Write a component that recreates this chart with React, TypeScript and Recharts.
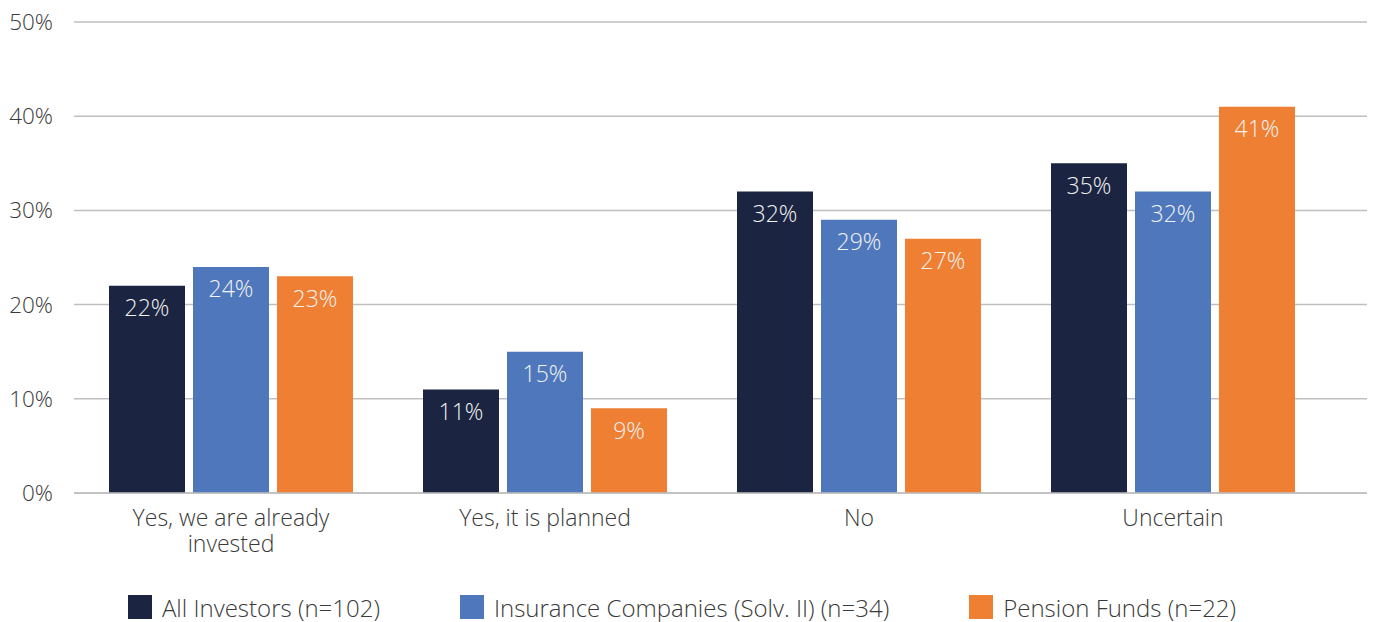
import React from "react";
import { BarChart, Bar, XAxis, YAxis, CartesianGrid, LabelList, Legend } from "recharts";

const categories = ["Yes, we are already\ninvested", "Yes, it is planned", "No", "Uncertain"];
const allInvestors = [22, 11, 32, 35];
const insurance = [24, 15, 29, 32];
const pension = [23, 9, 27, 41];
const yTicks = [0, 10, 20, 30, 40, 50];

const series = [
  { key: "all", name: "All Investors (n=102)", color: "#1B2440", values: allInvestors },
  { key: "ins", name: "Insurance Companies (Solv. II) (n=34)", color: "#4F78BC", values: insurance },
  { key: "pen", name: "Pension Funds (n=22)", color: "#EE7F33", values: pension },
];

const data = categories.map((c, i) => {
  const row: any = { category: c };
  series.forEach((s) => (row[s.key] = s.values[i]));
  return row;
});

const FONT = "'Open Sans', 'Noto Sans', sans-serif";
const WEIGHT = 300;
const TEXT_COLOR = "#3A3A3A";
const GRID = "#BFBFBF";

const CategoryTick = (props: any) => {
  const { x, y, payload } = props;
  const lines = String(payload.value).split("\n");
  return (
    <text
      x={x}
      y={y + 25}
      textAnchor="middle"
      fontSize={23}
      fontFamily={FONT}
      fontWeight={WEIGHT}
      fill={TEXT_COLOR}
    >
      {lines.map((ln, i) => (
        <tspan key={i} x={x} dy={i === 0 ? 0 : 26}>
          {ln}
        </tspan>
      ))}
    </text>
  );
};

const renderLegend = () => (
  <div
    style={{
      display: "flex",
      justifyContent: "center",
      alignItems: "center",
      gap: 80,
      height: 30,
      fontFamily: FONT,
      fontWeight: WEIGHT,
      fontSize: 24,
      color: TEXT_COLOR,
      paddingRight: 11,
    }}
  >
    {series.map((s) => (
      <div key={s.key} style={{ display: "flex", alignItems: "center" }}>
        <span style={{ display: "inline-block", width: 24, height: 24, background: s.color, marginRight: 10 }} />
        <span>{s.name}</span>
      </div>
    ))}
  </div>
);

export default function App() {
  return (
    <div style={{ position: "absolute", left: 0, top: 0, width: 1375, height: 622, background: "#fff" }}>
      <BarChart
        width={1375}
        height={622}
        data={data}
        margin={{ top: 22, right: 8, bottom: 0, left: 0 }}
        barCategoryGap={35}
        barGap={8}
      >
        <CartesianGrid vertical={false} stroke={GRID} strokeWidth={1.5} />
        <XAxis
          dataKey="category"
          height={99}
          interval={0}
          tickLine={false}
          axisLine={{ stroke: GRID, strokeWidth: 1.5 }}
          padding={{ left: 0, right: 37 }}
          tick={(p: any) => <CategoryTick {...p} />}
        />
        <YAxis
          width={74}
          domain={[0, 50]}
          ticks={yTicks}
          tickFormatter={(v: number) => `${v}%`}
          tickLine={false}
          axisLine={false}
          tickMargin={15}
          tick={{ fontSize: 22.5, fontFamily: FONT, fontWeight: WEIGHT, fill: TEXT_COLOR }}
        />
        <Legend verticalAlign="bottom" content={renderLegend} wrapperStyle={{ left: 0, width: 1375, bottom: 0 }} />
        {series.map((s) => (
          <Bar key={s.key} dataKey={s.key} name={s.name} fill={s.color} isAnimationActive={false}>
            <LabelList
              dataKey={s.key}
              position="insideTop"
              offset={14}
              formatter={(v: any) => `${v}%`}
              fill="#F2F2F2"
              fontSize={23}
              fontWeight={WEIGHT}
              fontFamily={FONT}
            />
          </Bar>
        ))}
      </BarChart>
    </div>
  );
}
